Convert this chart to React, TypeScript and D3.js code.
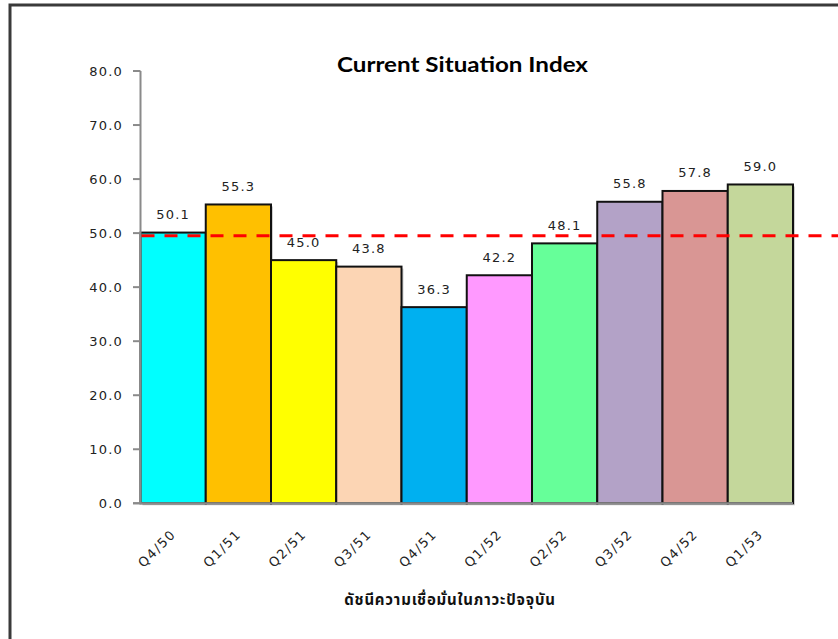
import React from "react";
import * as d3 from "d3";

const categories = ["Q4/50", "Q1/51", "Q2/51", "Q3/51", "Q4/51", "Q1/52", "Q2/52", "Q3/52", "Q4/52", "Q1/53"];
const values = [50.1, 55.3, 45.0, 43.8, 36.3, 42.2, 48.1, 55.8, 57.8, 59.0];
const barColors = ["#00FFFF", "#FFC000", "#FFFF00", "#FCD5B4", "#00B0F0", "#FF99FF", "#66FF99", "#B3A2C7", "#D99694", "#C4D79B"];
const yTicks = [0, 10, 20, 30, 40, 50, 60, 70, 80];
const referenceValue = 49.5;
const title = "Current Situation Index";
const xTitle = "ดัชนีความเชื่อมั่นในภาวะปัจจุบัน";

const W = 838;
const H = 639;
const left = 140.5;
const right = 793;
const top = 71;
const bottom = 503.3;

export default function App() {
  const x = d3.scaleBand<string>().domain(categories).range([left, right]).padding(0);
  const y = d3.scaleLinear().domain([0, 80]).range([bottom, top]);
  const fmt = d3.format(".1f");
  const numFont = "'DejaVu Sans', Verdana, sans-serif";

  return (
    <svg
      width={W}
      height={H}
      style={{ position: "absolute", left: 0, top: 0, background: "#fff" }}
    >
      {/* outer chart frame */}
      <rect x={10} y={5} width={W + 20} height={H + 20} fill="#fff" stroke="#3a3a3a" strokeWidth={3} />

      {/* title */}
      <text
        x={462.5}
        y={72}
        textAnchor="middle"
        fontFamily="Lato, 'Open Sans', sans-serif"
        fontWeight="bold"
        fontSize={21}
        textLength={251}
        lengthAdjust="spacingAndGlyphs"
        fill="#000"
      >
        {title}
      </text>

      {/* bar shadows */}
      {values.map((v, i) => {
        const cx = x(categories[i])!;
        const bw = x.bandwidth();
        return (
          <rect
            key={"s" + categories[i]}
            x={cx + 2}
            y={y(v) + 2}
            width={bw}
            height={bottom - y(v)}
            fill="#b0b0b0"
            opacity={0.6}
          />
        );
      })}
      {/* bars */}
      {values.map((v, i) => {
        const cx = x(categories[i])!;
        const bw = x.bandwidth();
        return (
          <rect
            key={"b" + categories[i]}
            x={cx}
            y={y(v)}
            width={bw}
            height={bottom - y(v)}
            fill={barColors[i]}
            stroke="#111"
            strokeWidth={2}
          />
        );
      })}

      {/* y axis */}
      <line x1={left} x2={left} y1={top} y2={bottom} stroke="#8a8a8a" strokeWidth={2} />
      {yTicks.map((t) => (
        <g key={t}>
          <line x1={133} x2={left} y1={y(t)} y2={y(t)} stroke="#8a8a8a" strokeWidth={2} />
          <text
            x={123}
            y={y(t) + 4.7}
            textAnchor="end"
            fontFamily={numFont}
            fontSize={13}
            letterSpacing={1.2}
            fill="#222"
          >
            {fmt(t)}
          </text>
        </g>
      ))}

      {/* x axis */}
      <line x1={133} x2={right} y1={bottom} y2={bottom} stroke="#8a8a8a" strokeWidth={2} />
      {categories.map((c) => {
        const cx = x(c)! + x.bandwidth() / 2 + 3.5;
        const cy = 535;
        return (
          <text
            key={"xl" + c}
            x={cx}
            y={cy}
            transform={`rotate(-45 ${cx} ${cy})`}
            textAnchor="end"
            fontFamily={numFont}
            fontSize={13}
            letterSpacing={1.5}
            fill="#222"
          >
            {c}
          </text>
        );
      })}

      {/* data labels */}
      {values.map((v, i) => (
        <text
          key={"dl" + categories[i]}
          x={x(categories[i])! + x.bandwidth() / 2}
          y={y(v) - 13.5}
          textAnchor="middle"
          fontFamily={numFont}
          fontSize={13}
          letterSpacing={1.2}
          fill="#222"
        >
          {fmt(v)}
        </text>
      ))}

      {/* reference dashed line */}
      <line
        x1={left + 1}
        x2={W}
        y1={y(referenceValue)}
        y2={y(referenceValue)}
        stroke="#FF0000"
        strokeWidth={3}
        strokeDasharray="13 10"
      />

      {/* x axis title */}
      <text
        x={450}
        y={605}
        textAnchor="middle"
        fontFamily="'Noto Sans Thai', 'Noto Sans', 'DejaVu Sans', sans-serif"
        fontWeight="bold"
        fontSize={15}
        letterSpacing={0.8}
        fill="#111"
      >
        {xTitle}
      </text>
    </svg>
  );
}
